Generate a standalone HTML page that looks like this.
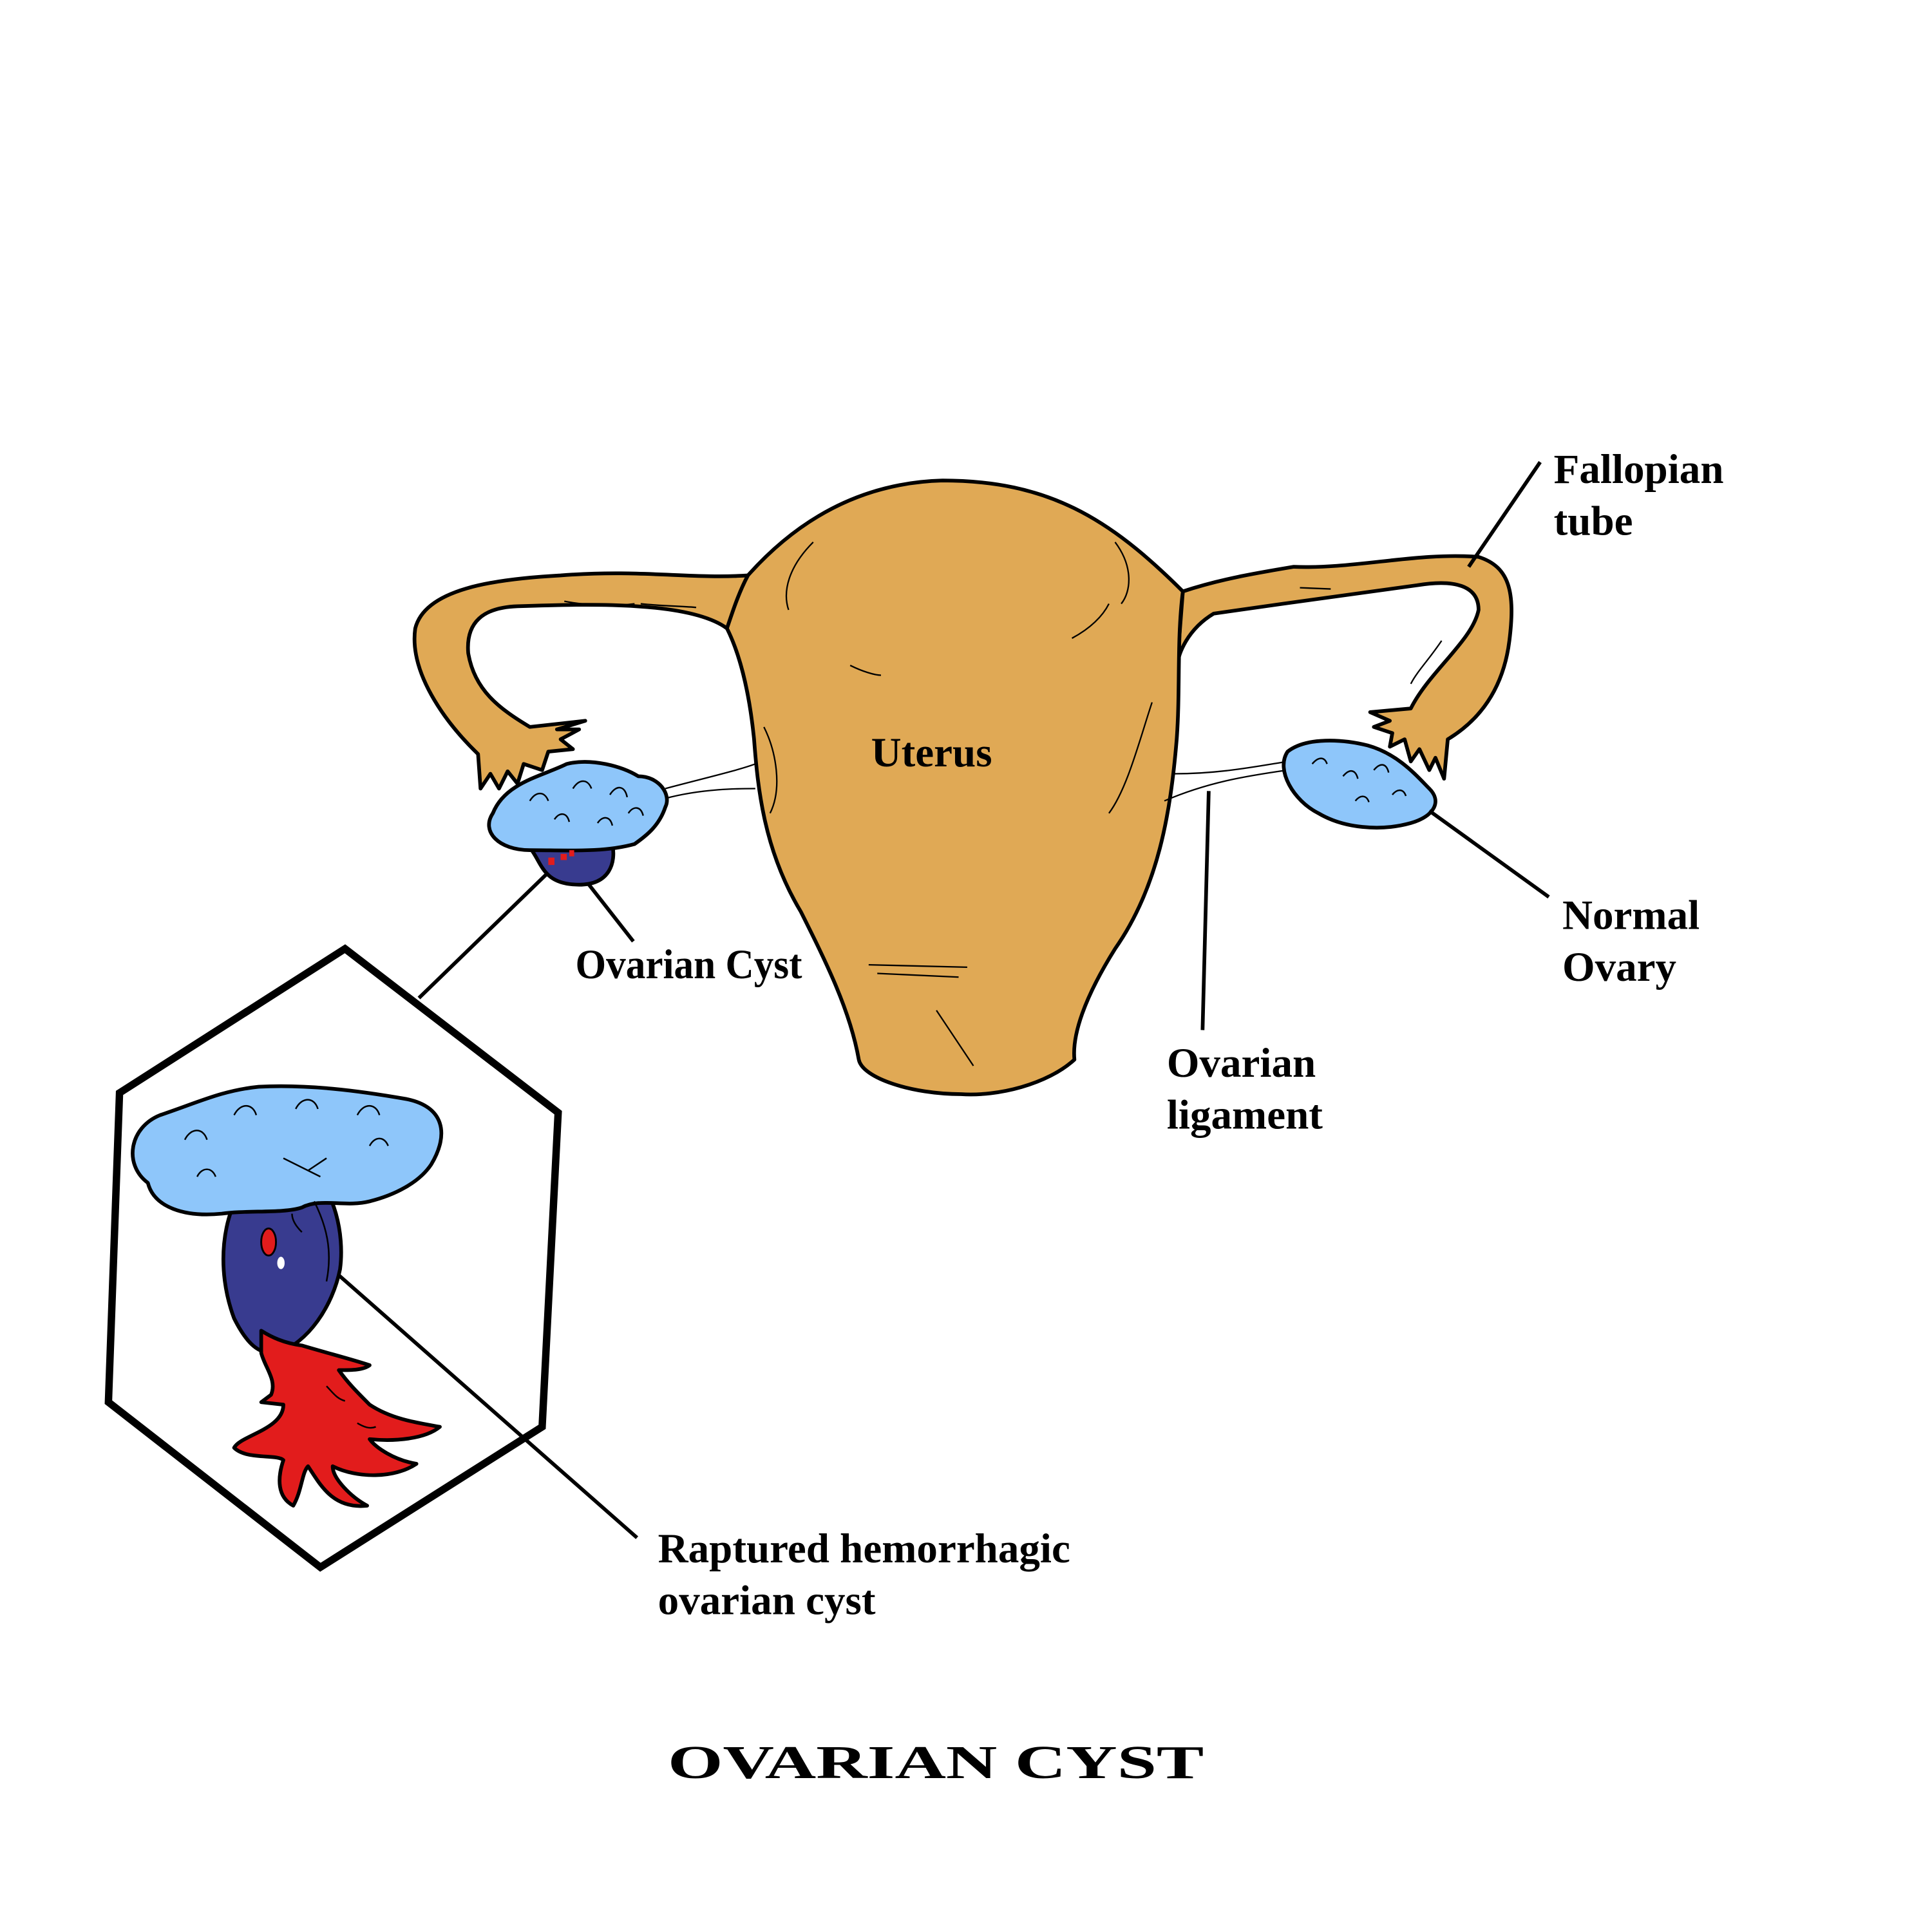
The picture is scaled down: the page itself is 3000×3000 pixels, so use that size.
<!DOCTYPE html>
<html><head><meta charset="utf-8"><style>html,body{margin:0;padding:0;background:#fff}svg{display:block}</style></head>
<body>
<svg width="3000" height="3000" viewBox="0 0 1568 1568" xmlns="http://www.w3.org/2000/svg">
<rect width="1568" height="1568" fill="#fff"/>
<g stroke="#000" stroke-width="3" stroke-linejoin="round" fill="#e0a955">
<path d="M607,467 C560,470 520,462 455,467 C400,470 345,478 337,510 C332,545 360,585 388,612 L390,640 L398,628 L405,640 L412,626 L420,636 L425,620 L440,625 L445,610 L465,608 L455,600 L470,592 L452,592 L475,585 L430,590 C405,575 385,560 380,530 C378,505 392,493 420,492 C480,490 560,488 590,510 Z"/>
<path d="M960,480 C990,470 1020,465 1050,460 C1100,462 1150,448 1200,452 C1225,460 1230,480 1225,520 C1220,560 1200,585 1175,600 L1172,632 L1165,615 L1160,625 L1152,608 L1145,618 L1140,600 L1128,606 L1130,595 L1115,590 L1128,585 L1112,578 L1145,575 C1160,545 1195,520 1200,495 C1200,475 1180,470 1150,475 C1100,482 1040,490 985,498 C965,510 955,530 955,545 Z"/>
<path d="M607,467 C640,430 690,392 765,390 C850,390 900,420 960,480 C955,520 958,560 955,600 C950,660 940,720 905,770 C880,810 870,840 872,860 C850,880 810,890 780,888 C740,888 700,875 697,860 C690,820 670,780 650,740 C620,690 615,640 612,600 C608,560 600,530 590,510 C595,495 600,480 607,467 Z"/>
</g>
<g stroke="#000" stroke-width="1.2" fill="none">
<path d="M660,440 C640,460 635,480 640,495"/><path d="M690,540 C700,545 710,548 715,548"/>
<path d="M905,440 C920,460 918,480 910,490"/><path d="M870,518 C885,510 895,500 900,490"/>
<path d="M620,590 C630,610 635,640 625,660"/><path d="M935,570 C925,600 915,640 900,660"/>
<path d="M705,783 L785,785 M712,790 L778,793 M760,820 C770,835 780,850 790,865"/>
<path d="M458,488 C480,492 500,492 515,490 M520,490 C540,492 555,492 565,493"/>
<path d="M1055,477 L1080,478 M1170,520 C1160,535 1150,545 1145,555"/>
<path d="M540,640 C570,632 600,625 613,620 M540,648 C570,640 600,640 613,640"/>
<path d="M945,650 C980,635 1010,630 1045,625 M953,628 C990,628 1020,622 1045,618"/>
</g>
<g stroke="#000" stroke-width="3" stroke-linejoin="round">
<path d="M430,688 C440,700 440,718 470,718 C495,718 500,700 497,685 Z" fill="#383b8f"/>
<path d="M400,660 C410,635 440,630 460,620 C480,615 505,622 518,630 C535,630 545,645 540,655 C535,670 525,678 515,685 C490,692 460,690 430,690 C405,690 390,675 400,660 Z" fill="#8ec6fa"/>
<path d="M1045,610 C1060,598 1090,600 1110,605 C1135,612 1150,630 1160,640 C1170,650 1165,662 1145,668 C1120,675 1090,672 1070,660 C1050,650 1035,625 1045,610 Z" fill="#8ec6fa"/>
</g>
<rect x="445" y="696" width="5" height="6" fill="#e21c1c"/><rect x="455" y="693" width="5" height="5" fill="#e21c1c"/><rect x="462" y="690" width="4" height="5" fill="#e21c1c"/>
<g stroke="#000" stroke-width="1.3" fill="none">
<path d="M430,650 c5,-8 12,-8 15,0 M465,640 c5,-8 12,-8 15,0 M495,645 c5,-8 12,-8 14,2 M450,665 c4,-6 10,-6 12,2 M485,668 c4,-6 10,-6 12,2 M510,660 c4,-6 10,-6 12,2"/>
<path d="M1065,620 c5,-6 10,-6 12,0 M1090,630 c5,-6 10,-6 12,2 M1115,625 c5,-6 10,-6 12,2 M1100,650 c4,-5 9,-5 11,1 M1130,645 c4,-5 9,-5 11,1"/>
</g>
<polygon points="280,770 453,903 440,1158 260,1272 88,1138 97,887" fill="none" stroke="#000" stroke-width="6"/>
<g stroke="#000" stroke-width="3" stroke-linejoin="round">
<path d="M200,960 C180,985 175,1030 190,1070 C200,1090 210,1100 225,1098 C250,1090 270,1060 276,1030 C280,1000 270,965 255,955 Z" fill="#383b8f"/>
<path d="M212,1098 C215,1110 225,1120 220,1132 L212,1138 L230,1140 C230,1160 195,1165 190,1175 C200,1185 225,1180 230,1185 C225,1200 225,1215 238,1222 C245,1210 245,1195 250,1190 C260,1205 270,1225 298,1222 C285,1215 270,1200 270,1190 C290,1200 320,1200 338,1188 C320,1185 305,1175 300,1168 C320,1170 345,1168 357,1158 C340,1155 318,1152 300,1140 C290,1130 282,1122 275,1112 C285,1112 295,1112 300,1108 C285,1103 265,1098 245,1092 C230,1090 220,1085 212,1080 Z" fill="#e21c1c"/>
<path d="M120,960 C100,945 105,915 130,905 C160,895 180,885 210,882 C250,880 290,885 330,892 C360,898 365,920 350,945 C340,960 320,970 300,975 C280,980 260,972 245,980 C230,985 200,982 180,985 C150,988 125,980 120,960 Z" fill="#8ec6fa"/>
</g>
<ellipse cx="218" cy="1008" rx="6" ry="11" fill="#e21c1c" stroke="#000" stroke-width="1.5"/>
<ellipse cx="228" cy="1025" rx="3" ry="5" fill="#fff"/>
<g stroke="#000" stroke-width="1.3" fill="none">
<path d="M150,925 c5,-10 15,-10 18,0 M190,905 c5,-10 15,-10 18,0 M240,900 c5,-10 15,-10 18,0 M290,905 c5,-10 15,-10 18,0 M160,955 c4,-8 12,-8 15,0 M300,930 c4,-8 12,-8 15,0 M230,940 l30,15 M250,950 l15,-10"/>
<path d="M255,975 c10,20 15,40 10,65 M245,1000 c-5,-5 -8,-10 -8,-15 M265,1125 c5,5 8,10 15,12 M290,1155 c5,3 10,5 15,3"/>
</g>
<g stroke="#000" stroke-width="3" fill="none">
<line x1="1250" y1="375" x2="1192" y2="460"/>
<line x1="1257" y1="728" x2="1160" y2="658"/>
<line x1="976" y1="836" x2="981" y2="642"/>
<line x1="514" y1="764" x2="478" y2="718"/>
<line x1="340" y1="810" x2="443" y2="710"/>
<line x1="517" y1="1248" x2="275" y2="1035"/>
</g>
<g font-family="Liberation Serif, serif" font-weight="bold" font-size="34" fill="#000">
<text x="707" y="622">Uterus</text>
<text x="1261" y="392">Fallopian</text><text x="1261" y="434">tube</text>
<text x="1268" y="754">Normal</text><text x="1268" y="796">Ovary</text>
<text x="947" y="874">Ovarian</text><text x="947" y="916">ligament</text>
<text x="467" y="794" textLength="184" lengthAdjust="spacingAndGlyphs">Ovarian Cyst</text>
<text x="534" y="1268">Raptured hemorrhagic</text><text x="534" y="1310">ovarian cyst</text>
<text x="542" y="1443" font-size="38" textLength="435" lengthAdjust="spacingAndGlyphs">OVARIAN CYST</text>
</g>
</svg>
</body></html>
